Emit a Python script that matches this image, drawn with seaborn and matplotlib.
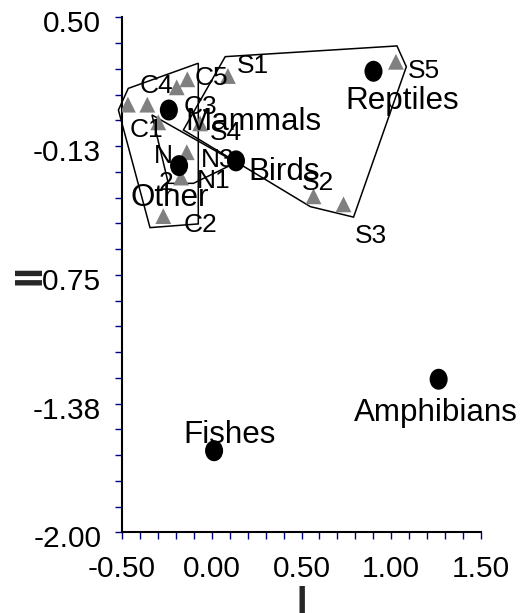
import numpy as np
import pandas as pd
import matplotlib
matplotlib.use("Agg")
import matplotlib.pyplot as plt
import seaborn as sns
from matplotlib.path import Path
from matplotlib.patches import Polygon
from matplotlib.transforms import Affine2D, ScaledTranslation

# ---------------- data ----------------
class_names = ["Mammals", "Other", "Birds", "Reptiles", "Fishes", "Amphibians"]
class_x = [-0.239, -0.182, 0.135, 0.901, 0.013, 1.264]
class_y = [0.050, -0.220, -0.197, 0.238, -1.604, -1.257]

cat_names = ["C1", "C3", "N2", "C4", "C5", "S1", "S4", "N3", "N1", "C2", "S2", "S3", "S5"]
cat_x = [-0.467, -0.359, -0.298, -0.195, -0.136, 0.090, -0.065, -0.139, -0.171, -0.270, 0.567, 0.734, 1.026]
cat_y = [0.076, 0.076, -0.010, 0.160, 0.199, 0.215, -0.015, -0.155, -0.278, -0.465, -0.369, -0.408, 0.284]

hull_a_x = [-0.520, -0.465, -0.075, -0.075, -0.344]
hull_a_y = [0.050, 0.155, 0.277, -0.503, -0.521]
hull_b_x = [-0.158, 0.075, 1.032, 1.084, 0.790, 0.549]
hull_b_y = [-0.047, 0.309, 0.361, 0.260, -0.470, -0.419]
hull_c_x = [-0.333, -0.242, -0.102, 0.136]
hull_c_y = [0.026, -0.306, -0.306, -0.205]

x_major = [-0.50, 0.00, 0.50, 1.00, 1.50]
x_major_labels = ["-0.50", "0.00", "0.50", "1.00", "1.50"]
y_major = [0.50, -0.125, -0.75, -1.375, -2.00]
y_major_labels = ["0.50", "-0.13", "-0.75", "-1.38", "-2.00"]
x_title = "I"
y_title = "II"

# ---------------- layout (pixel offsets of labels) ----------------
class_label_off = [(16.7, 20), (-49, 40.8), (12.5, 19.2), (-28.3, 38.1), (-30.7, -7.4), (-84.3, 41.4)]
cat_label_text = ["C1", "C3", "N\n2", "C4", "C5", "S1", "S4", "N3", "N1", "C2", "S2", "S3", "S5"]
cat_label_off = [(2, 32.1), (36.8, 9.3), (15, 67.7), (-36.7, 5.7), (7.7, 5.7), (9, -3),
                 (10, 16.7), (14.3, 14.7), (15.7, 10.5), (20, 15.7), (-11.6, -6.3), (11.7, 39), (12.3, 16.3)]

sns.set_theme(style="white")
plt.rcParams["font.family"] = ["Liberation Sans", "DejaVu Sans"]

fig = plt.figure(figsize=(5.21, 6.13), dpi=100)
ax = fig.add_axes([122 / 521, (613 - 532.3) / 613, 359 / 521, 515 / 613])

classes = pd.DataFrame({"name": class_names, "x": class_x, "y": class_y})
cats = pd.DataFrame({"name": cat_names, "x": cat_x, "y": cat_y})

for hx, hy in [(hull_a_x, hull_a_y), (hull_b_x, hull_b_y), (hull_c_x, hull_c_y)]:
    ax.add_patch(Polygon(np.column_stack([hx, hy]), closed=True, fill=False,
                         edgecolor="black", lw=1.1, clip_on=False, zorder=2))

sns.scatterplot(data=cats, x="x", y="y", marker="^", s=130, color="#808080",
                edgecolor="none", linewidth=0, ax=ax, zorder=3, legend=False)
ellipse = Path.unit_circle().transformed(Affine2D().scale(0.86, 1.0))
sns.scatterplot(data=classes, x="x", y="y", marker=ellipse, s=228, color="black",
                edgecolor="none", linewidth=0, ax=ax, zorder=4, legend=False)

for name, x, y, (dx, dy) in zip(class_names, class_x, class_y, class_label_off):
    ax.annotate(name, xy=(x, y), xytext=(dx, -dy), textcoords="offset pixels",
                ha="left", va="baseline", fontsize=22.6, color="black",
                annotation_clip=False, zorder=5)
for lab, x, y, (dx, dy) in zip(cat_label_text, cat_x, cat_y, cat_label_off):
    if "\n" in lab:
        ax.annotate(lab, xy=(x, y), xytext=(dx, -dy), textcoords="offset pixels",
                    ha="right", va="baseline", multialignment="right", linespacing=1.18,
                    fontsize=19, color="black", annotation_clip=False, zorder=5)
    else:
        ax.annotate(lab, xy=(x, y), xytext=(dx, -dy), textcoords="offset pixels",
                    ha="left", va="baseline", fontsize=19, color="black",
                    annotation_clip=False, zorder=5)

ax.set_xlim(-0.5, 1.5)
ax.set_ylim(-2.0, 0.5)

x_all = np.round(np.linspace(-0.5, 1.5, 21), 3)
y_all = np.round(np.linspace(-2.0, 0.5, 21), 4)
ax.set_xticks(x_all)
ax.set_xticklabels([x_major_labels[x_major.index(v)] if v in x_major else "" for v in x_all])
ax.set_yticks(y_all)
ax.set_yticklabels([y_major_labels[y_major.index(v)] if v in y_major else "" for v in y_all])

ax.tick_params(axis="both", direction="out", length=5, width=1.0, color="#000080",
               labelsize=21.5, labelcolor="black", left=True, bottom=True)
ax.tick_params(axis="x", pad=11)
ax.tick_params(axis="y", pad=10)
for s in ["top", "right"]:
    ax.spines[s].set_visible(False)
for s in ["left", "bottom"]:
    ax.spines[s].set_color("black")
    ax.spines[s].set_linewidth(1.5)

off = ScaledTranslation(0, -0.04, fig.dpi_scale_trans)
for lab in ax.get_yticklabels():
    lab.set_transform(lab.get_transform() + off)

ax.set_xlabel(x_title, fontsize=27, fontweight="bold")
ax.xaxis.set_label_coords(0.5, -0.103)
ax.set_ylabel(y_title, fontsize=27, fontweight="bold")
ax.yaxis.set_label_coords(-0.205, 0.5)

fig.savefig("out.png", dpi=100)
